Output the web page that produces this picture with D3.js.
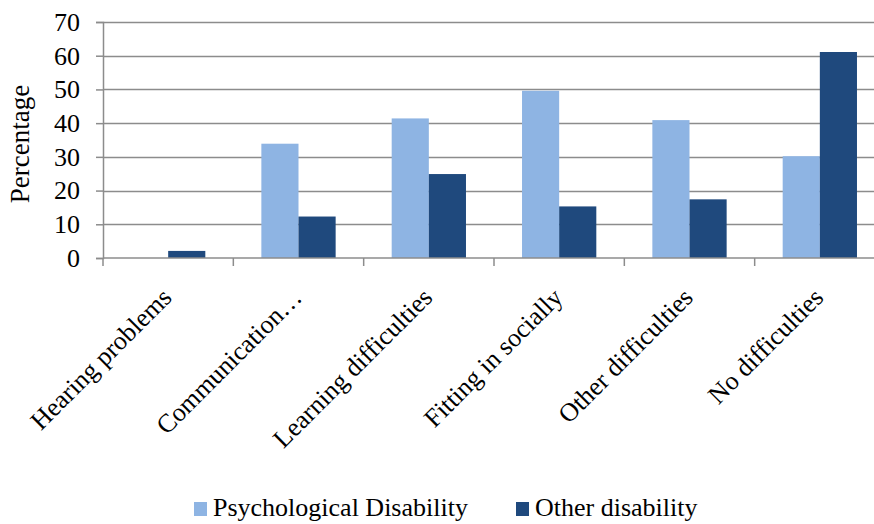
<!DOCTYPE html>
<html>
<head>
<meta charset="utf-8">
<script src="https://cdn.jsdelivr.net/npm/d3@7"></script>
<style>
  body { margin: 0; background: #fff; }
</style>
</head>
<body>
<div id="chart"></div>
<script>
// categories and series (percentages)
var categories = [
    'Hearing problems', 'Communication\u2026', 'Learning difficulties',
    'Fitting in socially', 'Other difficulties', 'No difficulties'
];
var seriesNames = ['Psychological Disability', 'Other disability'];
var psychological = [0, 33.9, 41.4, 49.6, 40.9, 30.2];
var otherDisability = [2.1, 12.3, 24.9, 15.3, 17.4, 61.1];
var yTicks = [0, 10, 20, 30, 40, 50, 60, 70];

var colors = ['#8eb4e3', '#1f497d'];
var FONT = "'Liberation Serif'";
var FONT_SIZE = '26px';

var width = 874, height = 524;
var margin = { top: 22, left: 103, bottom: 266 };
// the plot area runs past the right edge of the image, as in the source
var plotRight = 885;
var plotBottom = height - margin.bottom;

var svg = d3.select('#chart').append('svg')
    .attr('width', width)
    .attr('height', height);

var x = d3.scaleBand()
    .domain(categories)
    .range([margin.left, plotRight])
    .paddingInner(0.43)
    .paddingOuter(0.215);

var x0 = d3.scaleBand()
    .domain(categories)
    .range([margin.left, plotRight]);

var xs = d3.scaleBand()
    .domain(seriesNames)
    .range([0, x.bandwidth()]);

var y = d3.scaleLinear()
    .domain([0, 70])
    .range([plotBottom, margin.top]);

// grid lines
svg.append('g')
    .selectAll('line')
    .data(yTicks.slice(1))
    .enter()
    .append('line')
    .attr('x1', margin.left)
    .attr('x2', plotRight)
    .attr('y1', d => Math.round(y(d)) + 0.5)
    .attr('y2', d => Math.round(y(d)) + 0.5)
    .attr('stroke', '#8c8c8c')
    .attr('stroke-width', 1.5);

// bars
var rows = categories.map((c, i) => ({ cat: c, vals: [psychological[i], otherDisability[i]] }));
var groups = svg.append('g')
    .selectAll('g')
    .data(rows)
    .enter()
    .append('g')
    .attr('transform', d => 'translate(' + x(d.cat) + ',0)');

groups.selectAll('rect')
    .data(d => d.vals.map((v, j) => ({ name: seriesNames[j], value: v, j: j })))
    .enter()
    .append('rect')
    .attr('x', d => xs(d.name))
    .attr('y', d => y(d.value))
    .attr('width', xs.bandwidth())
    .attr('height', d => plotBottom - y(d.value))
    .attr('fill', d => colors[d.j]);

// y axis
var yAxis = svg.append('g')
    .attr('transform', 'translate(' + margin.left + ',0)')
    .call(d3.axisLeft(y).tickValues(yTicks).tickSize(7).tickPadding(16));
yAxis.select('.domain').attr('stroke', '#8c8c8c').attr('stroke-width', 1.5);
yAxis.selectAll('.tick line').attr('stroke', '#8c8c8c').attr('stroke-width', 1.5);
yAxis.selectAll('.tick text')
    .style('font-family', FONT)
    .style('font-size', FONT_SIZE)
    .attr('fill', '#000');

// x axis line and tick marks between categories
var xAxis = svg.append('g');
xAxis.append('line')
    .attr('x1', margin.left)
    .attr('x2', plotRight)
    .attr('y1', plotBottom)
    .attr('y2', plotBottom)
    .attr('stroke', '#8c8c8c')
    .attr('stroke-width', 1.5);
xAxis.selectAll('line.tick')
    .data(categories)
    .enter()
    .append('line')
    .attr('class', 'tick')
    .attr('x1', d => x0(d))
    .attr('x2', d => x0(d))
    .attr('y1', plotBottom)
    .attr('y2', plotBottom + 8)
    .attr('stroke', '#8c8c8c')
    .attr('stroke-width', 1.5);

// rotated category labels
xAxis.selectAll('text')
    .data(categories)
    .enter()
    .append('text')
    .attr('transform', d => 'translate(' + (x0(d) + x0.bandwidth() / 2 + 5) + ',' + (plotBottom + 41) + ') rotate(-45)')
    .attr('text-anchor', 'end')
    .style('font-family', FONT)
    .style('font-size', FONT_SIZE)
    .text(d => d);

// y axis title
svg.append('text')
    .attr('transform', 'translate(29,' + ((margin.top + plotBottom) / 2 + 4) + ') rotate(-90)')
    .attr('text-anchor', 'middle')
    .style('font-family', FONT)
    .style('font-size', '27px')
    .text('Percentage');

// legend
var legendX = [194, 516];
var legend = svg.append('g')
    .selectAll('g')
    .data(seriesNames)
    .enter()
    .append('g')
    .attr('transform', (d, i) => 'translate(' + legendX[i] + ',502)');
legend.append('rect')
    .attr('width', 13)
    .attr('height', 14)
    .attr('fill', (d, i) => colors[i]);
legend.append('text')
    .attr('x', 19)
    .attr('y', 14)
    .style('font-family', FONT)
    .style('font-size', FONT_SIZE)
    .text(d => d);
</script>
</body>
</html>
